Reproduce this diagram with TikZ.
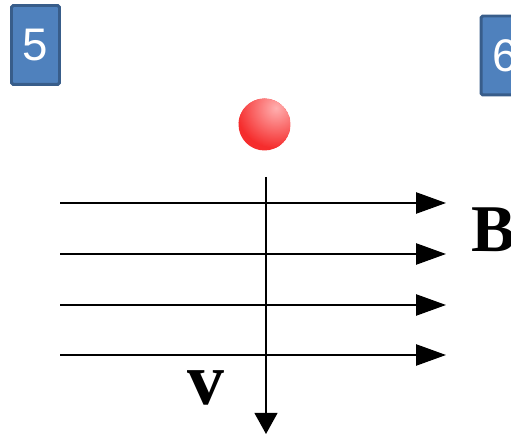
\documentclass[tikz,border=0pt]{standalone}
\usepackage{fontspec}
\setmainfont{Liberation Serif}
\newfontfamily\numfont{Liberation Sans}
\definecolor{slideblue}{RGB}{79,129,189}
\definecolor{slideedge}{RGB}{56,93,138}
\definecolor{ballred}{RGB}{245,45,45}
\definecolor{ballglow}{RGB}{255,175,175}
\usetikzlibrary{arrows.meta,positioning}
\tikzset{
  numbox/.style={draw=slideedge,fill=slideblue,line width=1.7pt,rounded corners=1pt,
    minimum width=0.96cm,minimum height=1.58cm,inner sep=0pt,text=white,
    font=\numfont\fontsize{26}{26}\selectfont},
  fieldln/.style={line width=1.1pt,-{Triangle[length=17pt,width=12pt]}},
  velln/.style={line width=1.1pt,-{Triangle[length=12pt,width=13pt]}},
  biglab/.style={font=\bfseries\fontsize{38}{38}\selectfont,inner sep=0pt},
}
\begin{document}
\begin{tikzpicture}[x=0.02cm,y=-0.02cm]
  \useasboundingbox (0,0) rectangle (511,438);
  % slide numbers
  \node[numbox] (n5) at (35.5,45) {5};
  \node[numbox] (n6) at (505,55.5) {6};
  % the ball, lit from the upper right
  \begin{scope}
    \clip (264.5,124.5) circle (0.52cm);
    \fill[ballred] (264.5,124.5) circle (0.52cm);
    \shade[inner color=ballglow,outer color=ballred] (276,108) circle (0.8cm);
  \end{scope}
  % field lines B
  \foreach \y [count=\i] in {203,254,305,355}{
    \coordinate (f\i a) at (60,\y);
    \coordinate (f\i b) at (446,\y);
    \draw[fieldln] (f\i a) -- (f\i b);
  }
  \node[biglab,anchor=west] (blab) at (471,230) {B};
  % velocity
  \coordinate (va) at (266,177);
  \coordinate (vb) at (266,434);
  \draw[velln] (va) -- (vb);
  \node[biglab,font=\bfseries\fontsize{42}{42}\selectfont] (vlab) at (206,388) {v};
\end{tikzpicture}
\end{document}
